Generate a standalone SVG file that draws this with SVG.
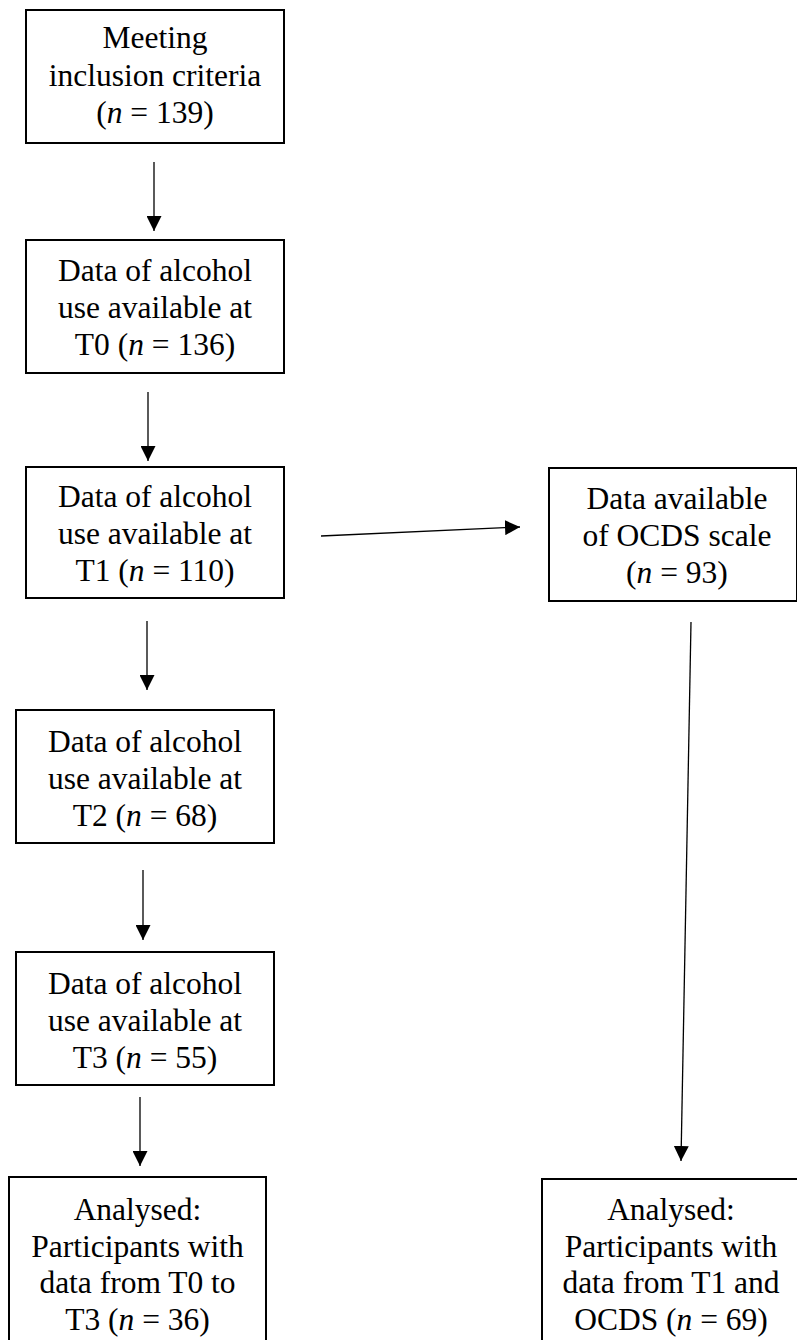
<svg xmlns="http://www.w3.org/2000/svg" width="797" height="1340" viewBox="0 0 797 1340">
<style>
.box{fill:#fff;stroke:#000;stroke-width:2}
.lbl{font-family:"Liberation Serif","Times New Roman",serif;font-size:31.5px;fill:#000;text-anchor:middle}
.it{font-style:italic}
.con{stroke:#000;stroke-width:1.3;fill:none;marker-end:url(#ah)}
</style>
<defs>
<marker id="ah" markerUnits="userSpaceOnUse" markerWidth="15" markerHeight="15" refX="15" refY="7.5" orient="auto">
<path d="M0,0 L15,7.5 L0,15 z" fill="#000"/>
</marker>
</defs>
<rect width="797" height="1340" fill="#fff"/>
<g id="connectors">
<line class="con" x1="154" y1="162" x2="154" y2="231"/>
<line class="con" x1="148" y1="392" x2="148" y2="461"/>
<line class="con" x1="147" y1="621" x2="147" y2="690"/>
<line class="con" x1="143" y1="870" x2="143" y2="940"/>
<line class="con" x1="140" y1="1097" x2="140" y2="1166"/>
<line class="con" x1="321" y1="536" x2="520" y2="527"/>
<line class="con" x1="691" y1="622" x2="681" y2="1161"/>
</g>
<g id="n-inclusion">
<rect class="box" x="26" y="10" width="258" height="133"/>
<text class="lbl" x="155" y="48">Meeting</text>
<text class="lbl" x="155" y="86">inclusion criteria</text>
<text class="lbl" x="155" y="123">(<tspan class="it">n</tspan> = 139)</text>
</g>
<g id="n-t0">
<rect class="box" x="26" y="240" width="258" height="133"/>
<text class="lbl" x="155" y="281">Data of alcohol</text>
<text class="lbl" x="155" y="318">use available at</text>
<text class="lbl" x="155" y="355">T0 (<tspan class="it">n</tspan> = 136)</text>
</g>
<g id="n-t1">
<rect class="box" x="26" y="467" width="258" height="131"/>
<text class="lbl" x="155" y="507">Data of alcohol</text>
<text class="lbl" x="155" y="544">use available at</text>
<text class="lbl" x="155" y="581">T1 (<tspan class="it">n</tspan> = 110)</text>
</g>
<g id="n-ocds">
<rect class="box" x="549" y="468" width="248" height="133"/>
<text class="lbl" x="677" y="509">Data available</text>
<text class="lbl" x="677" y="546">of OCDS scale</text>
<text class="lbl" x="677" y="583">(<tspan class="it">n</tspan> = 93)</text>
</g>
<g id="n-t2">
<rect class="box" x="16" y="710" width="258" height="133"/>
<text class="lbl" x="145" y="752">Data of alcohol</text>
<text class="lbl" x="145" y="789">use available at</text>
<text class="lbl" x="145" y="826">T2 (<tspan class="it">n</tspan> = 68)</text>
</g>
<g id="n-t3">
<rect class="box" x="16" y="952" width="258" height="133"/>
<text class="lbl" x="145" y="994">Data of alcohol</text>
<text class="lbl" x="145" y="1031">use available at</text>
<text class="lbl" x="145" y="1068">T3 (<tspan class="it">n</tspan> = 55)</text>
</g>
<g id="n-analysed-left">
<rect class="box" x="9" y="1177" width="257" height="170"/>
<text class="lbl" x="137.5" y="1220">Analysed:</text>
<text class="lbl" x="137.5" y="1257">Participants with</text>
<text class="lbl" x="137.5" y="1293">data from T0 to</text>
<text class="lbl" x="137.5" y="1330">T3 (<tspan class="it">n</tspan> = 36)</text>
</g>
<g id="n-analysed-right">
<rect class="box" x="542" y="1179" width="260" height="170"/>
<text class="lbl" x="671" y="1220">Analysed:</text>
<text class="lbl" x="671" y="1257">Participants with</text>
<text class="lbl" x="671" y="1293">data from T1 and</text>
<text class="lbl" x="671" y="1330">OCDS (<tspan class="it">n</tspan> = 69)</text>
</g>
</svg>
